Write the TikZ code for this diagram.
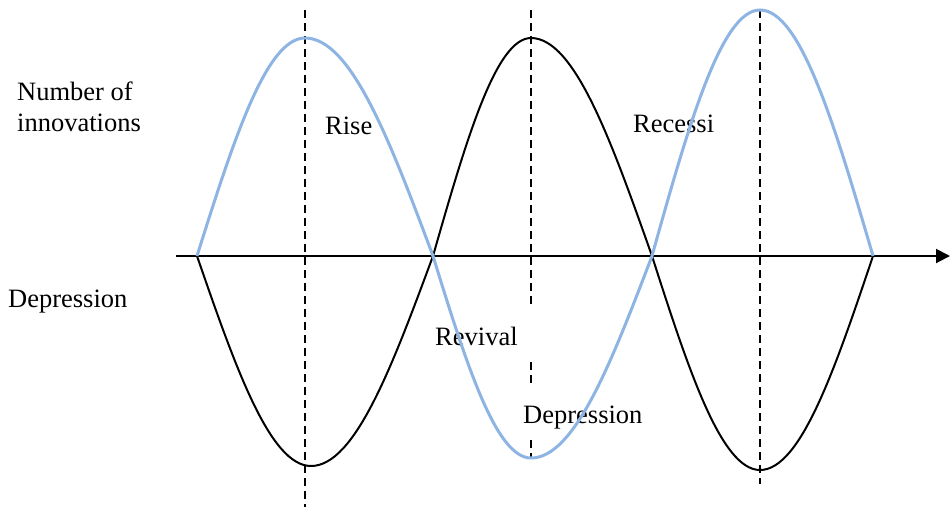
\documentclass[tikz,border=0pt]{standalone}
\usepackage{fontspec}
\setmainfont{Liberation Serif}
\usetikzlibrary{arrows.meta}
\definecolor{cycleblue}{RGB}{141,180,226}
\begin{document}
\begin{tikzpicture}[x=1pt,y=-1pt,
  lbl/.style={anchor=west,inner sep=0pt,font=\fontsize{26.5}{31}\selectfont},
  guide/.style={line width=2pt,dash pattern=on 8pt off 5pt},
  bluecurve/.style={cycleblue,line width=3pt},
  blackcurve/.style={black,line width=2pt},
  axisline/.style={line width=2pt,-{Triangle[length=14pt,width=14pt]}}]
\useasboundingbox (0,0) rectangle (950,507);
% dashed guides
\draw[guide] (305,10) -- (305,507);
\draw[guide] (531,10) -- (531,305);
\draw[guide] (531,362) -- (531,386);
\draw[guide] (531,440) -- (531,458);
\draw[guide] (760,10) -- (760,484);
% labels
\node[lbl,align=left] (ylab) at (17,107) {Number of\\innovations};
\node[lbl] (dep1) at (8,302) {Depression};
\node[lbl] (rise) at (325,126) {Rise};
\node[lbl] (rec) at (633,124) {Recessi};
\node[lbl] (rev) at (435,336) {Revival};
\node[lbl] (dep2) at (523,418) {Depression};
% axis
\coordinate (a0) at (176,256);
\coordinate (a1) at (950,256);
\draw[axisline] (a0) -- (a1);
% black curve
\draw[blackcurve] (197,256) .. controls (235.1,366.3) and (269.9,466) .. (311,466)
  .. controls (354.9,466) and (392.2,366.3) .. (433,256)
  .. controls (465.8,141.5) and (495.7,38) .. (531,38)
  .. controls (574.6,38) and (611.5,141.5) .. (652,256)
  .. controls (688.1,368.4) and (721.1,470) .. (760,470)
  .. controls (800.7,470) and (835.2,368.4) .. (873,256);
% blue curve
\draw[bluecurve] (197,256) .. controls (233.1,141.5) and (266.1,38) .. (305,38)
  .. controls (351.1,38) and (390.2,141.5) .. (433,256)
  .. controls (465.8,362.1) and (495.7,458) .. (531,458)
  .. controls (574.6,458) and (611.5,362.1) .. (652,256)
  .. controls (688.1,126.8) and (721.1,10) .. (760,10)
  .. controls (800.7,10) and (835.2,126.8) .. (873,256);
\end{tikzpicture}
\end{document}
